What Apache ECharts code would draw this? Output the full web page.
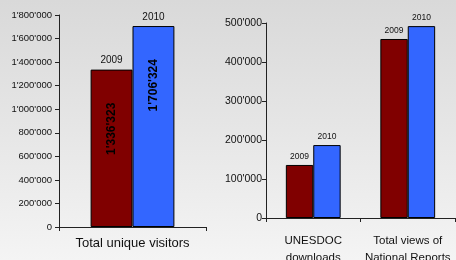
<!DOCTYPE html>
<html><head><meta charset="utf-8">
<script src="https://cdn.jsdelivr.net/npm/echarts@6/dist/echarts.min.js"></script>
<style>html,body{margin:0;padding:0}#c{width:456px;height:260px;background:linear-gradient(to bottom,#d9d9d9 0%,#e6e6e6 50%,#f4f4f4 100%)}</style>
</head><body><div id="c"></div>
<script>
const seriesNames = ["2009", "2010"];
const leftCategories = ["Total unique visitors"];
const leftValues2009 = [1336323];
const leftValues2010 = [1706324];
const rightCategories = ["UNESDOC\ndownloads", "Total views of\nNational Reports"];
const rightValues2009 = [136000, 459000];
const rightValues2010 = [187000, 492000];
const leftTicks = {min: 0, max: 1800000, interval: 200000};
const rightTicks = {min: 0, max: 500000, interval: 100000};
const colors = ["#800000", "#3366ff"];

const fmt = v => String(v).replace(/\B(?=(\d{3})+(?!\d))/g, "'");
const ff = "Liberation Sans, Arial, sans-serif";
const axisLine = {show: true, lineStyle: {color: "#222", width: 1}};

function xAx(grid, cats, show, fs, margin) {
  return {type: "category", gridIndex: grid, data: cats, show: show,
    axisLine: axisLine, axisTick: {show: true, length: 4, lineStyle: {color: "#222"}},
    axisLabel: {interval: 0, fontFamily: ff, fontSize: fs, color: "#111", margin: margin, lineHeight: 17}};
}
function yAx(grid, t, fs, margin) {
  return {type: "value", gridIndex: grid, min: t.min, max: t.max, interval: t.interval,
    axisLine: axisLine, axisTick: {show: true, length: 4, lineStyle: {color: "#222"}},
    splitLine: {show: false},
    axisLabel: {fontFamily: ff, fontSize: fs, color: "#111", margin: margin, formatter: fmt}};
}
function mainBar(name, data, xi, yi, color, fs, gap) {
  return {type: "bar", name: name, xAxisIndex: xi, yAxisIndex: yi, data: data,
    barCategoryGap: gap, barGap: "0%",
    itemStyle: {color: color, borderColor: "#000", borderWidth: 1},
    label: {show: true, position: "top", distance: 4, formatter: name, fontFamily: ff, fontSize: fs, color: "#111"}};
}
function overlayBar(data, xi, yi) {
  return {type: "bar", xAxisIndex: xi, yAxisIndex: yi, data: data,
    barCategoryGap: "43%", barGap: "0%", silent: true,
    itemStyle: {color: "rgba(0,0,0,0)"},
    label: {show: true, position: "insideTop", rotate: 90, align: "right", verticalAlign: "middle",
      distance: 33, fontFamily: ff, fontSize: 12, fontWeight: "bold", color: "#000",
      formatter: p => fmt(p.value)}};
}

const chart = echarts.init(document.getElementById("c"));
chart.setOption({
  backgroundColor: "transparent",
  animation: false,
  grid: [
    {left: 59, right: 250, top: 15, bottom: 33, outerBoundsMode: "none", containLabel: false},
    {left: 266, right: 1, top: 23, bottom: 42, outerBoundsMode: "none", containLabel: false}
  ],
  xAxis: [
    xAx(0, leftCategories, true, 13, 8),
    xAx(0, leftCategories, false, 13, 8),
    xAx(1, rightCategories, true, 11.5, 14)
  ],
  yAxis: [yAx(0, leftTicks, 9.5, 7), yAx(1, rightTicks, 10.5, 4)],
  series: [
    mainBar(seriesNames[0], leftValues2009, 0, 0, colors[0], 10, "43%"),
    mainBar(seriesNames[1], leftValues2010, 0, 0, colors[1], 10, "43%"),
    overlayBar(leftValues2009, 1, 0),
    overlayBar(leftValues2010, 1, 0),
    mainBar(seriesNames[0], rightValues2009, 2, 1, colors[0], 8.5, "42%"),
    mainBar(seriesNames[1], rightValues2010, 2, 1, colors[1], 8.5, "42%")
  ]
});
</script></body></html>
